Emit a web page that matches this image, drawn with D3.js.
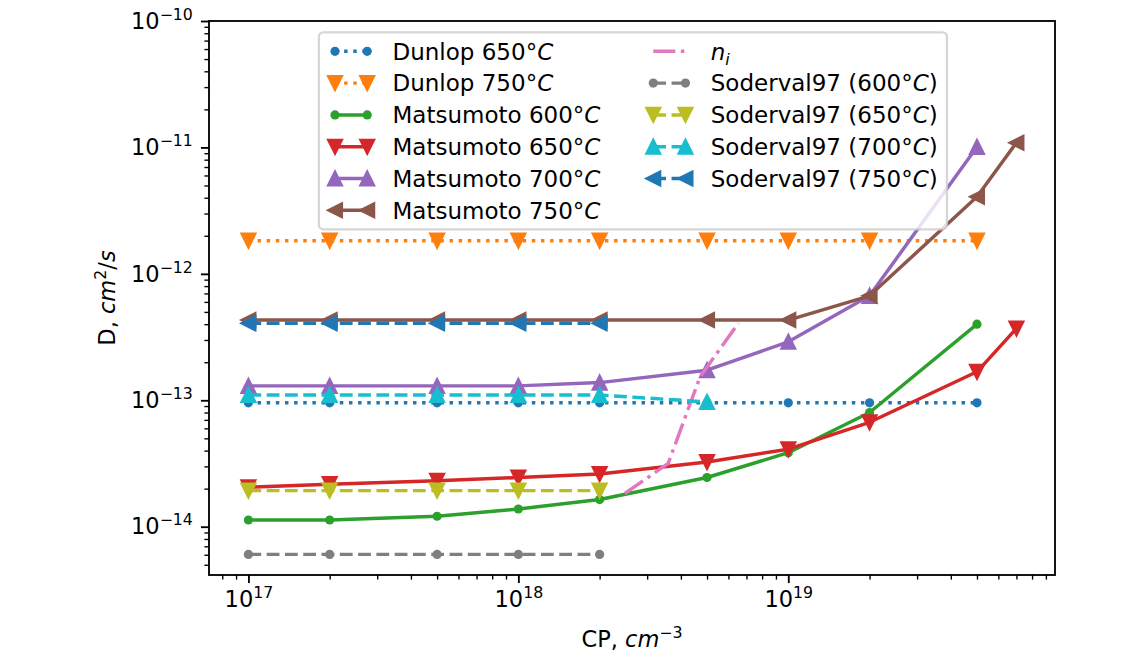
<!DOCTYPE html>
<html>
<head>
<meta charset="utf-8">
<script src="https://cdn.jsdelivr.net/npm/d3@7"></script>
<style>
  body { margin: 0; background: #fff; }
  svg { display: block; font-family: "DejaVu Sans", sans-serif; }
</style>
</head>
<body>
<div id="chart"></div>
<script>
// CP concentration grids (cm^-3)
const cpDunlop = [1e17, 2e17, 5e17, 1e18, 2e18, 5e18, 1e19, 2e19, 5e19];
const cpMats9 = [1e17, 2e17, 5e17, 1e18, 2e18, 5e18, 1e19, 2e19, 5e19];
const cpMats10 = [1e17, 2e17, 5e17, 1e18, 2e18, 5e18, 1e19, 2e19, 5e19, 7e19];
const cpSod5 = [1e17, 2e17, 5e17, 1e18, 2e18];
const cpSod6 = [1e17, 2e17, 5e17, 1e18, 2e18, 5e18];
const cpNi = [2.48e18, 3.59e18, 4.71e18, 6.53e18];

// diffusivities D (cm^2/s)
const dunlop650 = [9.55e-14, 9.55e-14, 9.55e-14, 9.55e-14, 9.55e-14, 9.55e-14, 9.55e-14, 9.55e-14, 9.55e-14];
const dunlop750 = [1.83e-12, 1.83e-12, 1.83e-12, 1.83e-12, 1.83e-12, 1.83e-12, 1.83e-12, 1.83e-12, 1.83e-12];
const mats600 = [1.13e-14, 1.13e-14, 1.21e-14, 1.38e-14, 1.64e-14, 2.45e-14, 3.85e-14, 8.0e-14, 4.0e-13];
const mats650 = [2.05e-14, 2.17e-14, 2.31e-14, 2.45e-14, 2.61e-14, 3.25e-14, 4.1e-14, 6.7e-14, 1.68e-13, 3.7e-13];
const mats700 = [1.30e-13, 1.30e-13, 1.30e-13, 1.30e-13, 1.38e-13, 1.73e-13, 2.9e-13, 6.7e-13, 1.01e-11];
const mats750 = [4.31e-13, 4.31e-13, 4.31e-13, 4.31e-13, 4.31e-13, 4.31e-13, 4.31e-13, 6.7e-13, 4.07e-12, 1.09e-11];
const niCurve = [1.83e-14, 3.17e-14, 1.53e-13, 4.06e-13];
const sod600 = [6.04e-15, 6.04e-15, 6.04e-15, 6.04e-15, 6.04e-15];
const sod650 = [1.93e-14, 1.93e-14, 1.93e-14, 1.93e-14, 1.93e-14];
const sod700 = [1.10e-13, 1.10e-13, 1.10e-13, 1.10e-13, 1.10e-13, 9.7e-14];
const sod750 = [4.06e-13, 4.06e-13, 4.06e-13, 4.06e-13, 4.06e-13];

const xMajor = [1e17, 1e18, 1e19];
const yMajor = [1e-14, 1e-13, 1e-12, 1e-11, 1e-10];

const width = 1138, height = 656;
const margin = { top: 21, right: 83, bottom: 81, left: 209 };
const pt = 2.3;               // px per matplotlib point
const fs = 22.5;              // tick / label font size
const lfs = 23;               // legend font size
const lw = 1.5 * pt;

const dashes = {
  solid: null,
  dotted: [1 * lw, 1.65 * lw],
  dashed: [3.7 * lw, 1.6 * lw],
  dashdot: [6.4 * lw, 1.6 * lw, 1 * lw, 1.6 * lw]
};

// label pieces: [text, style] with style "", "i" (italic), "sub"
const series = [
  { label: [["Dunlop 650°", ""], ["C", "i"]], x: cpDunlop, y: dunlop650, color: "#1f77b4", marker: "point", dash: "dotted" },
  { label: [["Dunlop 750°", ""], ["C", "i"]], x: cpDunlop, y: dunlop750, color: "#ff7f0e", marker: "down", dash: "dotted" },
  { label: [["Matsumoto 600°", ""], ["C", "i"]], x: cpMats9, y: mats600, color: "#2ca02c", marker: "point", dash: "solid" },
  { label: [["Matsumoto 650°", ""], ["C", "i"]], x: cpMats10, y: mats650, color: "#d62728", marker: "down", dash: "solid" },
  { label: [["Matsumoto 700°", ""], ["C", "i"]], x: cpMats9, y: mats700, color: "#9467bd", marker: "up", dash: "solid" },
  { label: [["Matsumoto 750°", ""], ["C", "i"]], x: cpMats10, y: mats750, color: "#8c564b", marker: "left", dash: "solid" },
  { label: [["n", "i"], ["i", "sub"]], x: cpNi, y: niCurve, color: "#e377c2", marker: null, dash: "dashdot" },
  { label: [["Soderval97 (600°", ""], ["C", "i"], [")", ""]], x: cpSod5, y: sod600, color: "#7f7f7f", marker: "point", dash: "dashed" },
  { label: [["Soderval97 (650°", ""], ["C", "i"], [")", ""]], x: cpSod5, y: sod650, color: "#bcbd22", marker: "down", dash: "dashed" },
  { label: [["Soderval97 (700°", ""], ["C", "i"], [")", ""]], x: cpSod6, y: sod700, color: "#17becf", marker: "up", dash: "dashed" },
  { label: [["Soderval97 (750°", ""], ["C", "i"], [")", ""]], x: cpSod5, y: sod750, color: "#1f77b4", marker: "left", dash: "dashed" }
];

const x = d3.scaleLog()
  .domain([Math.pow(10, 16.854), Math.pow(10, 19.988)])
  .range([margin.left, width - margin.right]);
const y = d3.scaleLog()
  .domain([Math.pow(10, -14.382), 1e-10])
  .range([height - margin.bottom, margin.top]);

const svg = d3.select("#chart").append("svg")
  .attr("width", width)
  .attr("height", height);

function minors(lo, hi) {
  const out = [];
  for (let e = Math.floor(Math.log10(lo)); e <= Math.ceil(Math.log10(hi)); e++) {
    for (let m = 2; m <= 9; m++) {
      const v = m * Math.pow(10, e);
      if (v >= lo && v <= hi) out.push(v);
    }
  }
  return out;
}

function supLabel(sel) {
  sel.each(function(d) {
    const e = Math.round(Math.log10(d));
    const t = d3.select(this).text("");
    t.append("tspan").text("10");
    t.append("tspan").attr("font-size", "0.7em").attr("dy", "-0.57em")
      .text(String(e).replace("-", "\u2212"));
  });
}

// x axis
const gx = svg.append("g")
  .attr("transform", `translate(0,${height - margin.bottom})`)
  .call(d3.axisBottom(x).tickValues(xMajor).tickSize(3.5 * pt).tickPadding(3.5 * pt).tickFormat(""));
gx.append("g")
  .call(d3.axisBottom(x).tickValues(minors(...x.domain())).tickSize(2 * pt).tickFormat(""))
  .call(g => g.select(".domain").remove())
  .selectAll("line").attr("stroke-width", 0.6 * pt);
gx.select(".domain").remove();
gx.attr("font-size", fs).attr("font-family", null);
gx.selectAll(".tick line").filter(function() { return !this.getAttribute("stroke-width"); })
  .attr("stroke-width", 0.8 * pt);
gx.selectAll(":scope > .tick text").call(supLabel);

// y axis
const gy = svg.append("g")
  .attr("transform", `translate(${margin.left},0)`)
  .call(d3.axisLeft(y).tickValues(yMajor).tickSize(3.5 * pt).tickPadding(3.5 * pt).tickFormat(""));
gy.append("g")
  .call(d3.axisLeft(y).tickValues(minors(...y.domain())).tickSize(2 * pt).tickFormat(""))
  .call(g => g.select(".domain").remove())
  .selectAll("line").attr("stroke-width", 0.6 * pt);
gy.select(".domain").remove();
gy.attr("font-size", fs).attr("font-family", null);
gy.selectAll(".tick line").filter(function() { return !this.getAttribute("stroke-width"); })
  .attr("stroke-width", 0.8 * pt);
gy.selectAll(":scope > .tick text").call(supLabel);

// plot lines
svg.append("clipPath").attr("id", "clip")
  .append("rect")
  .attr("x", margin.left).attr("y", margin.top)
  .attr("width", width - margin.left - margin.right)
  .attr("height", height - margin.top - margin.bottom);

const half = 3 * pt;  // half marker size (6pt markers)
function markerPath(kind) {
  const h = half;
  if (kind === "down") return `M0,${h}L${-h},${-h}L${h},${-h}Z`;
  if (kind === "up") return `M0,${-h}L${-h},${h}L${h},${h}Z`;
  if (kind === "left") return `M${-h},0L${h},${-h}L${h},${h}Z`;
  return null;
}
function drawMarker(g, kind, color, cx, cy) {
  if (!kind) return;
  if (kind === "point") {
    g.append("circle").attr("cx", cx).attr("cy", cy).attr("r", 1.5 * pt + 0.5 * pt)
      .attr("fill", color);
  } else {
    g.append("path").attr("d", markerPath(kind))
      .attr("transform", `translate(${cx},${cy})`)
      .attr("fill", color).attr("stroke", color)
      .attr("stroke-width", 1 * pt).attr("stroke-linejoin", "miter");
  }
}

const line = d3.line().x(d => x(d[0])).y(d => y(d[1]));
const plot = svg.append("g").attr("clip-path", "url(#clip)");
series.forEach(s => {
  const pts = s.x.map((v, i) => [v, s.y[i]]);
  const g = plot.append("g");
  g.append("path")
    .attr("d", line(pts))
    .attr("fill", "none")
    .attr("stroke", s.color)
    .attr("stroke-width", lw)
    .attr("stroke-linejoin", "round")
    .attr("stroke-linecap", s.dash === "solid" ? "square" : "butt")
    .attr("stroke-dasharray", dashes[s.dash] ? dashes[s.dash].join(",") : null);
  pts.forEach(p => drawMarker(g, s.marker, s.color, x(p[0]), y(p[1])));
});

// spines
svg.append("rect")
  .attr("x", margin.left).attr("y", margin.top)
  .attr("width", width - margin.left - margin.right)
  .attr("height", height - margin.top - margin.bottom)
  .attr("fill", "none").attr("stroke", "#000").attr("stroke-width", 0.8 * pt);

// axis labels
const xl = svg.append("text")
  .attr("x", (margin.left + width - margin.right) / 2)
  .attr("y", 647)
  .attr("text-anchor", "middle")
  .attr("font-size", fs);
xl.append("tspan").text("CP, ");
xl.append("tspan").attr("font-style", "italic").text("cm");
xl.append("tspan").attr("font-size", "0.7em").attr("dy", "-0.57em").text("\u22123");

const yl = svg.append("text")
  .attr("transform", `translate(115,${(margin.top + height - margin.bottom) / 2}) rotate(-90)`)
  .attr("text-anchor", "middle")
  .attr("font-size", fs);
yl.append("tspan").text("D, ");
yl.append("tspan").attr("font-style", "italic").text("cm");
yl.append("tspan").attr("font-size", "0.7em").attr("dy", "-0.57em").text("2");
yl.append("tspan").attr("dy", "0.4em").text("/");
yl.append("tspan").attr("font-style", "italic").text("s");

// legend
const legend = svg.append("g");
const frame = legend.append("rect");
const lx0 = 318.9, ly0 = 32.3, rowY0 = 51.3, rowStep = 31.8;
const bpad = 0.4 * lfs, hlen = 2 * lfs, hpad = 0.8 * lfs, mpad = 0.3 * lfs;
const rows = 6;

function addLabel(g, parts, tx, ty) {
  const t = g.append("text").attr("x", tx).attr("y", ty).attr("font-size", lfs);
  parts.forEach(([txt, st]) => {
    const sp = t.append("tspan").text(txt);
    if (st === "i") sp.attr("font-style", "italic");
    if (st === "sub") sp.attr("font-style", "italic").attr("font-size", "0.7em").attr("dy", "0.3em");
  });
  return t;
}

let colStart = lx0 + bpad;
let right = 0;
for (let c = 0; c * rows < series.length; c++) {
  const items = series.slice(c * rows, (c + 1) * rows);
  let maxW = 0;
  items.forEach((s, i) => {
    const cy = rowY0 + i * rowStep;
    const g = legend.append("g");
    const x1 = colStart + mpad, x2 = colStart + hlen - mpad;
    g.append("line")
      .attr("x1", x1).attr("x2", x2).attr("y1", cy).attr("y2", cy)
      .attr("stroke", s.color).attr("stroke-width", lw)
      .attr("stroke-linecap", s.dash === "solid" ? "square" : "butt")
      .attr("stroke-dasharray", dashes[s.dash] ? dashes[s.dash].join(",") : null);
    drawMarker(g, s.marker, s.color, x1, cy);
    drawMarker(g, s.marker, s.color, x2, cy);
    const t = addLabel(g, s.label, colStart + hlen + hpad, cy + 0.3645 * lfs);
    maxW = Math.max(maxW, t.node().getComputedTextLength());
  });
  right = colStart + hlen + hpad + maxW;
  colStart = right + 2 * lfs;
}
frame
  .attr("x", lx0).attr("y", ly0)
  .attr("width", right + bpad - lx0)
  .attr("height", rowY0 + (rows - 1) * rowStep + (rowY0 - ly0) - ly0)
  .attr("rx", 0.2 * lfs)
  .attr("fill", "#fff").attr("fill-opacity", 0.8)
  .attr("stroke", "#ccc").attr("stroke-opacity", 0.8)
  .attr("stroke-width", 1 * pt);
</script>
</body>
</html>
